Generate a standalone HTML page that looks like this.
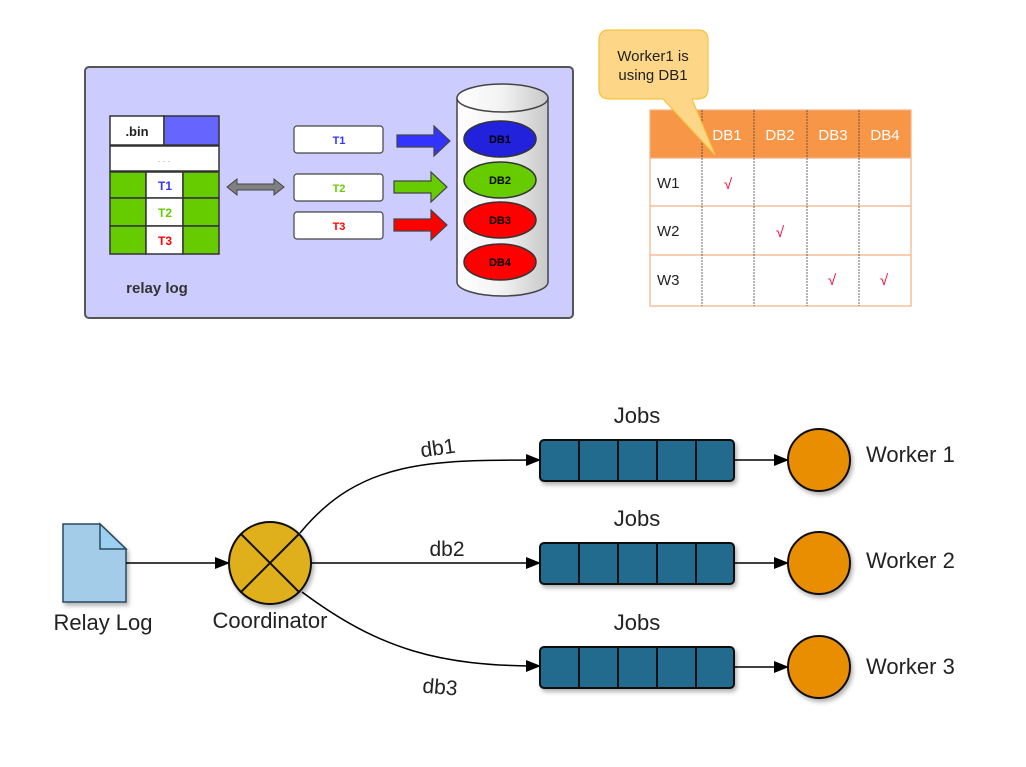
<!DOCTYPE html>
<html><head><meta charset="utf-8"><style>
html,body{margin:0;padding:0;background:#fff;}
svg{display:block;}
</style></head><body>
<svg width="1026" height="767" viewBox="0 0 1026 767" xmlns="http://www.w3.org/2000/svg" font-family="Liberation Sans, DejaVu Sans, sans-serif">
<defs>
<marker id="ah" markerWidth="15" markerHeight="12" refX="14" refY="6" orient="auto" markerUnits="userSpaceOnUse"><path d="M0,0 L15,6 L0,12 z" fill="#000"/></marker>
<linearGradient id="cyl" x1="0" x2="1"><stop offset="0" stop-color="#ffffff"/><stop offset="0.5" stop-color="#f2f2f2"/><stop offset="1" stop-color="#c8c8c8"/></linearGradient>
<filter id="sh" x="-20%" y="-20%" width="150%" height="150%"><feDropShadow dx="2" dy="3" stdDeviation="2" flood-color="#000" flood-opacity="0.3"/></filter>
</defs>

<rect x="85" y="67" width="488" height="251" rx="4" fill="#ccccff" stroke="#555" stroke-width="2"/>
<g stroke="#333" stroke-width="1.5">
<rect x="110" y="116" width="54" height="29" fill="#fff"/>
<rect x="164" y="116" width="55" height="29" fill="#6666ff"/>
<rect x="110" y="146" width="109" height="25" fill="#fff"/>
<rect x="110" y="172" width="36" height="26" fill="#66cc00"/><rect x="146" y="172" width="37" height="26" fill="#fff"/><rect x="183" y="172" width="36" height="26" fill="#66cc00"/>
<rect x="110" y="198" width="36" height="28" fill="#66cc00"/><rect x="146" y="198" width="37" height="28" fill="#fff"/><rect x="183" y="198" width="36" height="28" fill="#66cc00"/>
<rect x="110" y="226" width="36" height="28" fill="#66cc00"/><rect x="146" y="226" width="37" height="28" fill="#fff"/><rect x="183" y="226" width="36" height="28" fill="#66cc00"/>
</g>
<text x="137" y="136" font-size="13" font-weight="bold" text-anchor="middle" fill="#222">.bin</text>
<text x="164" y="162" font-size="9" text-anchor="middle" fill="#999">. . .</text>
<text x="165" y="190" font-size="12" font-weight="bold" text-anchor="middle" fill="#3333ff">T1</text>
<text x="165" y="217" font-size="12" font-weight="bold" text-anchor="middle" fill="#66cc00">T2</text>
<text x="165" y="245" font-size="12" font-weight="bold" text-anchor="middle" fill="#ff0000">T3</text>
<text x="157" y="293" font-size="15" font-weight="bold" text-anchor="middle" fill="#333">relay log</text>
<path d="M227,187 L237,179 L237,184 L274,184 L274,179 L284,187 L274,195 L274,190 L237,190 L237,195 z" fill="#808080" stroke="#444" stroke-width="1"/>
<g stroke="#444" stroke-width="1.2" fill="#fff">
<rect x="294" y="126" width="89" height="27" rx="3"/>
<rect x="294" y="174" width="89" height="27" rx="3"/>
<rect x="294" y="212" width="89" height="27" rx="3"/>
</g>
<text x="339" y="144" font-size="11" font-weight="bold" text-anchor="middle" fill="#3333ff">T1</text>
<text x="339" y="192" font-size="11" font-weight="bold" text-anchor="middle" fill="#66cc00">T2</text>
<text x="339" y="230" font-size="11" font-weight="bold" text-anchor="middle" fill="#ff0000">T3</text>
<path d="M397,135 L434,135 L434,126 L450,141 L434,156 L434,147 L397,147 z" fill="#3333ff" stroke="#444" stroke-width="1.2"/>
<path d="M394,181 L431,181 L431,172 L447,187 L431,202 L431,193 L394,193 z" fill="#66cc00" stroke="#444" stroke-width="1.2"/>
<path d="M394,219 L431,219 L431,210 L447,225 L431,240 L431,231 L394,231 z" fill="#ff0000" stroke="#444" stroke-width="1.2"/>
<path d="M457,98 L457,282 A45.5,14 0 0 0 548,282 L548,98" fill="url(#cyl)" stroke="#444" stroke-width="1.5"/>
<ellipse cx="502.5" cy="98" rx="45.5" ry="14" fill="url(#cyl)" stroke="#444" stroke-width="1.5"/>
<g stroke="#333" stroke-width="1.5">
<ellipse cx="500" cy="139" rx="36" ry="18" fill="#2222dd"/>
<ellipse cx="500" cy="180" rx="36" ry="18" fill="#66cc00"/>
<ellipse cx="500" cy="220" rx="36" ry="18" fill="#ff0000"/>
<ellipse cx="500" cy="262" rx="36" ry="18" fill="#ff0000"/>
</g>
<g font-size="11" font-weight="bold" text-anchor="middle" fill="#000">
<text x="500" y="143">DB1</text><text x="500" y="184">DB2</text><text x="500" y="224">DB3</text><text x="500" y="266">DB4</text>
</g>

<rect x="650" y="110" width="261" height="48" fill="#f79646"/>
<g stroke="#f4b183" stroke-width="1.2" fill="none">
<rect x="650" y="110" width="261" height="196"/>
<line x1="650" y1="206" x2="911" y2="206"/>
<line x1="650" y1="255" x2="911" y2="255"/>
<line x1="650" y1="158" x2="911" y2="158"/>
</g>
<g stroke="#444" stroke-width="0.8" stroke-dasharray="2,1">
<line x1="702" y1="110" x2="702" y2="306"/>
<line x1="754" y1="110" x2="754" y2="306"/>
<line x1="807" y1="110" x2="807" y2="306"/>
<line x1="859" y1="110" x2="859" y2="306"/>
</g>
<g font-size="15" fill="#fff" text-anchor="middle">
<text x="727" y="140">DB1</text><text x="780" y="140">DB2</text><text x="833" y="140">DB3</text><text x="885" y="140">DB4</text>
</g>
<g font-size="15" fill="#222">
<text x="657" y="188">W1</text><text x="657" y="236">W2</text><text x="657" y="285">W3</text>
</g>
<g font-size="15" fill="#ff0033" text-anchor="middle">
<text x="728" y="189">√</text><text x="780" y="237">√</text><text x="832" y="285">√</text><text x="884" y="285">√</text>
</g>
<path d="M609,30 L698,30 Q708,30 708,40 L708,89 Q708,99 698,99 L692,99 L715,155 L663,99 L609,99 Q599,99 599,89 L599,40 Q599,30 609,30 z" fill="#fdd687" stroke="#f5c342" stroke-width="1.2"/>
<text x="653" y="61" font-size="15" text-anchor="middle" fill="#222">Worker1 is</text>
<text x="653" y="80" font-size="15" text-anchor="middle" fill="#222">using DB1</text>

<path d="M63,524 L100,524 L126,549 L126,602 L63,602 z" fill="#a3cce8" stroke="#2b4a5e" stroke-width="1.5" filter="url(#sh)"/>
<path d="M100,524 L100,549 L126,549 z" fill="#9cd0f0" stroke="#2b4a5e" stroke-width="1.5"/>
<text x="103" y="630" font-size="22" text-anchor="middle" fill="#222">Relay Log</text>
<line x1="126" y1="563" x2="229" y2="563" stroke="#000" stroke-width="1.5" marker-end="url(#ah)"/>
<g filter="url(#sh)">
<circle cx="270" cy="563" r="41" fill="#dfb01f" stroke="#111" stroke-width="2"/>
</g>
<line x1="241" y1="534" x2="299" y2="592" stroke="#111" stroke-width="2"/>
<line x1="299" y1="534" x2="241" y2="592" stroke="#111" stroke-width="2"/>
<text x="270" y="628" font-size="22" text-anchor="middle" fill="#222">Coordinator</text>
<path d="M300,533 C360,460 430,460 540,460" fill="none" stroke="#000" stroke-width="1.5" marker-end="url(#ah)"/>
<line x1="311" y1="563" x2="540" y2="563" stroke="#000" stroke-width="1.5" marker-end="url(#ah)"/>
<path d="M302,592 C380,650 440,666 540,666" fill="none" stroke="#000" stroke-width="1.5" marker-end="url(#ah)"/>
<text x="438" y="455" font-size="21" text-anchor="middle" fill="#222" transform="rotate(-8 438 449)">db1</text>
<text x="447" y="556" font-size="21" text-anchor="middle" fill="#222">db2</text>
<text x="440" y="694" font-size="21" text-anchor="middle" fill="#222" transform="rotate(5 440 688)">db3</text>

<g id="q">
<rect x="540" y="440" width="194" height="41" rx="4" fill="#236b8e" stroke="#111" stroke-width="2" filter="url(#sh)"/>
<g stroke="#111" stroke-width="2"><line x1="579" y1="440" x2="579" y2="481"/><line x1="618" y1="440" x2="618" y2="481"/><line x1="657" y1="440" x2="657" y2="481"/><line x1="696" y1="440" x2="696" y2="481"/></g>
<text x="637" y="423" font-size="22" text-anchor="middle" fill="#222">Jobs</text>
<line x1="734" y1="460" x2="788" y2="460" stroke="#000" stroke-width="1.5" marker-end="url(#ah)"/>
<circle cx="819" cy="460" r="31" fill="#e88e00" stroke="#111" stroke-width="2" filter="url(#sh)"/>
</g>
<use href="#q" transform="translate(0,103)"/>
<use href="#q" transform="translate(0,207)"/>
<g font-size="22" fill="#222">
<text x="866" y="462">Worker 1</text><text x="866" y="568">Worker 2</text><text x="866" y="674">Worker 3</text>
</g>
</svg>
</body></html>
